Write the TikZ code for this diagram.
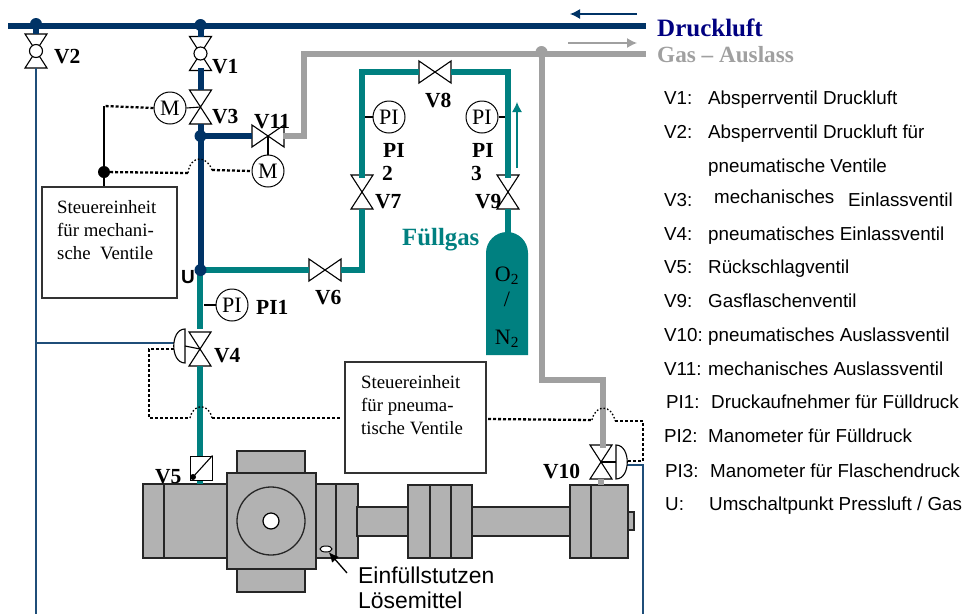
\documentclass[tikz,border=0pt]{standalone}
\usepackage{fontspec}
\setmainfont{Liberation Serif}
\setsansfont{Liberation Sans}
\usetikzlibrary{arrows.meta,shapes.geometric}
\definecolor{navy}{HTML}{003366}
\definecolor{tealp}{HTML}{008080}
\definecolor{grayp}{HTML}{A0A0A0}
\definecolor{thinb}{HTML}{1F4E79}
\definecolor{mach}{HTML}{B2B2B2}
\definecolor{dl}{HTML}{000080}
\tikzset{
  pipeN/.style={draw=navy,line width=6pt},
  pipeT/.style={draw=tealp,line width=6pt},
  pipeG/.style={draw=grayp,line width=6pt},
  thinblue/.style={draw=thinb,line width=1.2pt},
  dotline/.style={draw=black,line width=2.3pt,dash pattern=on 3pt off 2pt},
  dotbump/.style={draw=black,line width=1.3pt,dash pattern=on 1.6pt off 2pt},
  stem/.style={draw=black,line width=1.1pt},
  part/.style={draw=black!85,fill=mach,line width=1.3pt},
  junction/.style={circle,inner sep=0pt,minimum size=12pt},
  instr/.style={circle,draw=black,fill=white,line width=1pt,minimum size=32pt,inner sep=0pt,font=\fontsize{22}{24}\selectfont},
  ctrl/.style={draw=black!80,fill=white,line width=1.2pt,inner sep=0pt},
  ctrltext/.style={anchor=north west,align=left,inner sep=0pt,font=\fontsize{18.8}{23}\selectfont},
  lbl/.style={anchor=base west,inner sep=0pt,font=\fontsize{21.5}{24}\selectfont\bfseries},
  leg/.style={anchor=base west,inner sep=0pt,font=\sffamily\fontsize{18.8}{20}\selectfont},
  pics/vvalve/.style={code={
    \draw[black,fill=white,line width=1.1pt,line join=miter] (-11,-17)--(11,-17)--(-11,17)--(11,17)--cycle;}},
  pics/hvalve/.style={code={
    \draw[black,fill=white,line width=1.1pt,line join=miter] (-16,-11)--(16,11)--(16,-11)--(-16,11)--cycle;}},
}
\newcommand{\legrow}[5]{%
  \node[leg] (La#1) at (#2,#1) {#3};
  \node[leg] (Lb#1) at (#4,#1) {#5};}
\begin{document}
\begin{tikzpicture}[x=1pt,y=-1pt]
\useasboundingbox (0,0) rectangle (964,614);
% ---- anchors
\coordinate (mainL) at (8,26);
\coordinate (mainR) at (646,26);
\coordinate (gasR) at (646,54);
\coordinate (V2) at (36,51);
\coordinate (V1) at (200.5,53.5);
\coordinate (V3) at (200.5,107);
\coordinate (V4) at (200,349);
\coordinate (V6) at (325,270);
\coordinate (V7) at (362,192);
\coordinate (V8) at (435,72);
\coordinate (V9) at (508,192);
\coordinate (V10) at (601,462);
\coordinate (V11) at (268,136);
% ---- machine
\draw[part] (143,484) rectangle (227,558);
\draw[part] (164,484) -- (164,558);
\draw[part] (316,484) rectangle (358,558);
\draw[part] (336,484) -- (336,558);
\draw[part] (237,451) rectangle (305,474);
\draw[part] (237,569) rectangle (305,592);
\draw[part] (227,473) rectangle (316,569);
\node[part,circle,minimum size=68pt,inner sep=0pt] (rotor) at (271,521) {};
\node[circle,draw=black,fill=white,line width=1.2pt,minimum size=16pt,inner sep=0pt] (hub) at (271,521) {};
\node[ellipse,draw=black,fill=white,line width=1pt,minimum width=12pt,minimum height=6pt,inner sep=0pt] (fill) at (326,549) {};
\draw[part] (357,507) rectangle (409,536);
\draw[part] (408,485) rectangle (472,558);
\draw[part] (430,485) -- (430,558);
\draw[part] (451,485) -- (451,558);
\draw[part] (472,507) rectangle (571,536);
\draw[part] (627,512) rectangle (634,530);
\draw[part] (570,485) rectangle (628,558);
\draw[part] (591,485) -- (591,558);
% ---- valves
\pic at (V2) {vvalve};
\pic at (V1) {vvalve};
\pic at (V3) {vvalve};
\pic at (V4) {vvalve};
\pic at (V6) {hvalve};
\pic at (V7) {vvalve};
\pic at (V8) {hvalve};
\pic at (V9) {vvalve};
\pic at (V10) {vvalve};
\pic at (V11) {hvalve};
\node[circle,draw=black,fill=white,line width=1.1pt,minimum size=13pt,inner sep=0pt] (V2c) at (V2) {};
\node[circle,draw=black,fill=white,line width=1.1pt,minimum size=13pt,inner sep=0pt] (V1c) at (V1) {};
% ---- thin blue pneumatic lines
\coordinate (p1) at (36,614);
\coordinate (p2) at (36,343);
\coordinate (a4) at (174,343);
\coordinate (a10) at (627,465);
\coordinate (p3) at (643,465);
\coordinate (p4) at (643,614);
\coordinate (V2b) at (36,68);
\draw[thinblue] (V2b) -- (p1);
\draw[thinblue] (p2) -- (a4);
\draw[thinblue] (a10) -- (p3) -- (p4);
% ---- navy pipes
\coordinate (J2) at (36,24);
\coordinate (J1) at (200.5,25);
\coordinate (V2t) at (36,34);
\coordinate (V1t) at (200.5,37);
\coordinate (V1b) at (200.5,68);
\coordinate (V3t) at (200.5,90);
\coordinate (V3b) at (200.5,124);
\coordinate (U) at (200.5,270);
\coordinate (J3) at (200.5,136);
\coordinate (V11l) at (252,136);
\draw[pipeN] (mainL) -- (mainR);
\draw[pipeN] (J2) -- (V2t);
\draw[pipeN] (J1) -- (V1t);
\draw[pipeN] (V1b) -- (V3t);
\draw[pipeN] (V3b) -- (U);
\draw[pipeN] (J3) -- (V11l);
\node[junction,fill=navy] (nJ2) at (J2) {};
\node[junction,fill=navy] (nJ1) at (J1) {};
\node[junction,fill=navy] (nJ3) at (J3) {};
% ---- teal pipes
\coordinate (c1) at (362,270);
\coordinate (c2) at (362,72);
\coordinate (c3) at (508,72);
\coordinate (V6l) at (309,270);
\coordinate (V6r) at (341,270);
\coordinate (V7t) at (362,178);
\coordinate (V7b) at (362,209);
\coordinate (V8l) at (419,72);
\coordinate (V8r) at (451,72);
\coordinate (V9t) at (508,178);
\coordinate (V9b) at (508,209);
\coordinate (bott) at (508,235);
\coordinate (U2) at (200,273);
\coordinate (V4t) at (200,329);
\coordinate (V4b) at (200,366);
\coordinate (V5t) at (200,456);
\coordinate (V5b) at (200,480);
\coordinate (V5m) at (200,484);
\draw[pipeT,line cap=butt] (U) -- (V6l);
\draw[pipeT,line join=miter] (V6r) -- (c1) -- (V7b);
\draw[pipeT,line join=miter] (V7t) -- (c2) -- (V8l);
\draw[pipeT,line join=miter] (V8r) -- (c3) -- (V9t);
\draw[pipeT] (V9b) -- (bott);
\draw[pipeT] (U2) -- (V4t);
\draw[pipeT] (V4b) -- (V5t);
\draw[pipeT] (V5b) -- (V5m);
\node[junction,fill=navy] (nU) at (U) {};
% ---- bottle
\draw[fill=tealp,draw=none] (486,355) -- (486,253) arc[start angle=180,end angle=360,radius=21] -- (528,355) -- cycle;
\node[anchor=base,inner sep=0pt,font=\fontsize{22}{24}\selectfont] (o2) at (507,281) {O\textsubscript{2}};
\node[anchor=base,inner sep=0pt,font=\fontsize{22}{24}\selectfont] (slash) at (507,306) {/};
\node[anchor=base,inner sep=0pt,font=\fontsize{22}{24}\selectfont] (n2) at (507,344) {N\textsubscript{2}};
% ---- gray pipes
\coordinate (V11r) at (283,136);
\coordinate (g1) at (304,136);
\coordinate (g2) at (304,54);
\coordinate (J4) at (541.5,52);
\coordinate (g3) at (541.5,380);
\coordinate (g4) at (603,380);
\coordinate (g5) at (603,448);
\coordinate (V10b) at (601,479);
\coordinate (V10m) at (601,485);
\draw[pipeG,line join=miter] (V11r) -- (g1) -- (g2) -- (gasR);
\draw[pipeG,line join=miter] (J4) -- (g3) -- (g4) -- (g5);
\draw[pipeG] (V10b) -- (V10m);
\node[junction,fill=grayp] (nJ4) at (J4) {};
% ---- flow arrows
\coordinate (aN1) at (637,14); \coordinate (aN2) at (570,14);
\coordinate (aG1) at (568,43); \coordinate (aG2) at (637,43);
\coordinate (aT1) at (517,168); \coordinate (aT2) at (517,102);
\draw[navy,line width=1.3pt,-{Latex[length=10pt,width=10pt]}] (aN1) -- (aN2);
\draw[grayp,line width=1.3pt,-{Latex[length=10pt,width=10pt]}] (aG1) -- (aG2);
\draw[tealp,line width=1.3pt,-{Latex[length=10pt,width=10pt]}] (aT1) -- (aT2);
% ---- instruments
\node[instr] (M3) at (170,108) {M};
\node[instr] (M11) at (268,171) {M};
\node[instr] (PI1) at (232,305) {PI};
\node[instr] (PI2) at (389,117) {PI};
\node[instr] (PI3) at (482,117) {PI};
\coordinate (s1) at (204,305); \coordinate (s2) at (365,117); \coordinate (s3) at (505,117);
\draw[stem] (M3.east) -- (V3);
\draw[stem] (M11.north) -- (V11);
\draw[stem] (s1) -- (PI1.west);
\draw[stem] (s2) -- (PI2.west);
\draw[stem] (PI3.east) -- (s3);
% ---- actuators
\coordinate (act4) at (185,346);
\coordinate (act10) at (616,462);
\draw[stem,fill=white] (185,329) .. controls (170,329) and (170,363) .. (185,363) -- cycle;
\draw[stem,fill=white] (616,445) .. controls (631,445) and (631,479) .. (616,479) -- cycle;
\draw[stem] (act4) -- (V4);
\draw[stem] (V10) -- (act10);
% ---- check valve V5
\node[draw=black,fill=white,line width=1pt,minimum width=22pt,minimum height=24pt,inner sep=0pt] (V5) at (201,468) {};
\coordinate (V5d) at (193,477);
\draw[stem] (V5d) -- (V5.north east);
\node[circle,fill=black,inner sep=0pt,minimum size=6pt] (V5dot) at (V5d) {};
% ---- control boxes
\node[ctrl,minimum width=135pt,minimum height=111pt] (SE1) at (109.5,242.5) {};
\node[ctrl,minimum width=141pt,minimum height=111pt] (SE2) at (415.5,417.5) {};
\node[ctrltext] (SE1t) at (57,200) {Steuereinheit\\für mechani-\\sche\ \ Ventile};
\node[ctrltext] (SE2t) at (361,375) {Steuereinheit\\für pneuma-\\tische Ventile};
% ---- control signals
\coordinate (sigT) at (104,106);
\node[junction,fill=black] (hub1) at (104,172) {};
\draw[stem] (sigT) -- (hub1) -- (SE1.north -| hub1);
\draw[dotline] (M3.west) -- (sigT);
\coordinate (b1a) at (188,173); \coordinate (b1b) at (212,170); \coordinate (m11w) at (252,170);
\draw[dotline] (hub1) -- (b1a);
\draw[dotbump] (b1a) .. controls (190,155) and (207,155) .. (b1b);
\draw[dotline] (b1b) -- (M11.west);
\coordinate (d1) at (174,349); \coordinate (d2) at (149,349); \coordinate (d3) at (149,418);
\coordinate (b2a) at (190,418); \coordinate (b2b) at (212,418); \coordinate (d4) at (340,418);
\draw[dotline] (d1) -- (d2) -- (d3) -- (b2a);
\draw[dotbump] (b2a) .. controls (193,403) and (209,403) .. (b2b);
\draw[dotline] (b2b) -- (d4);
\coordinate (d5) at (488,419); \coordinate (b3a) at (592,420); \coordinate (b3b) at (615,421);
\coordinate (d6) at (643,421); \coordinate (d7) at (643,461); \coordinate (d8) at (628,461);
\draw[dotline] (d5) -- (b3a);
\draw[dotbump] (b3a) .. controls (595,404) and (612,404) .. (b3b);
\draw[dotline] (b3b) -- (d6) -- (d7) -- (d8);
% ---- pointer to filler
\coordinate (pt) at (347,573);
\draw[black,line width=1.3pt,-{Latex[length=10pt,width=9pt]}] (pt) -- (fill);
% ---- labels
\node[lbl] (tV2) at (54,63) {V2};
\node[lbl] (tV1) at (212,73) {V1};
\node[lbl] (tV3) at (212,123) {V3};
\node[lbl] (tV11) at (254,128) {V11};
\node[lbl] (tV6) at (315,304) {V6};
\node[lbl] (tPI1) at (256,314) {PI1};
\node[lbl] (tV4) at (214,362) {V4};
\node[lbl] (tV5) at (155,483) {V5};
\node[lbl] (tV10) at (543,478) {V10};
\node[lbl] (tV8) at (425,107) {V8};
\node[lbl] (tV7) at (375,208) {V7};
\node[lbl] (tV9) at (475,208) {V9};
\node[lbl] (tPI2a) at (383,157) {PI};
\node[lbl] (tPI2b) at (382,180) {2};
\node[lbl] (tPI3a) at (472,157) {PI};
\node[lbl] (tPI3b) at (471,180) {3};
\node[lbl,text=tealp,font=\fontsize{24.8}{26}\selectfont\bfseries] (tFG) at (402,245) {Füllgas};
\node[anchor=base west,inner sep=0pt,font=\sffamily\bfseries\fontsize{19}{22}\selectfont] (tU) at (181,283) {U};
\node[lbl,text=dl,font=\fontsize{25}{26}\selectfont\bfseries] (tDL) at (657,36) {Druckluft};
\node[lbl,text=grayp,font=\fontsize{23.2}{26}\selectfont\bfseries] (tGA) at (657,62) {Gas – Auslass};
\node[anchor=base west,inner sep=0pt,font=\sffamily\fontsize{22.9}{25}\selectfont] (tE1) at (358,583) {Einfüllstutzen};
\node[anchor=base west,inner sep=0pt,font=\sffamily\fontsize{22.9}{25}\selectfont] (tE2) at (358,608) {Lösemittel};
% ---- legend
\legrow{104}{664}{V1:}{708}{Absperrventil Druckluft}
\legrow{138}{664}{V2:}{708}{Absperrventil Druckluft für}
\node[leg] (Lc) at (708,172) {pneumatische Ventile};
\node[leg] (Ld) at (664,206) {V3:};
\node[leg] (Le) at (714,203) {mechanisches};
\node[leg] (Lf) at (848,206) {Einlassventil};
\legrow{240}{664}{V4:}{708}{pneumatisches Einlassventil}
\legrow{273}{664}{V5:}{708}{Rückschlagventil}
\legrow{307}{664}{V9:}{708}{Gasflaschenventil}
\legrow{341}{664}{V10:}{708}{pneumatisches Auslassventil}
\legrow{375}{664}{V11:}{708}{mechanisches Auslassventil}
\legrow{408}{666}{PI1:}{711}{Druckaufnehmer für Fülldruck}
\legrow{442}{664}{PI2:}{708}{Manometer für Fülldruck}
\legrow{477}{665}{PI3:}{710}{Manometer für Flaschendruck}
\legrow{510}{665}{U:}{709}{Umschaltpunkt Pressluft / Gas}
\end{tikzpicture}
\end{document}
